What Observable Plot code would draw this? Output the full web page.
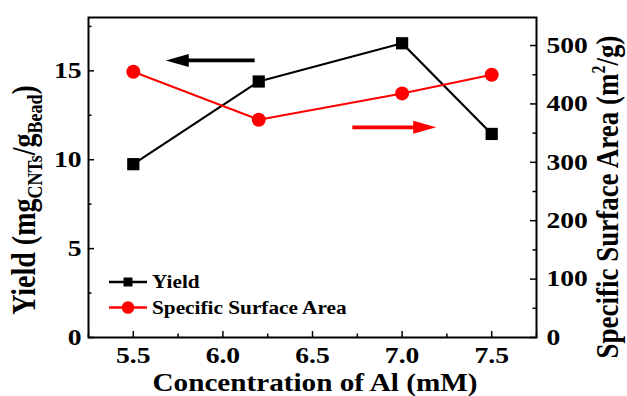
<!DOCTYPE html>
<html>
<head>
<meta charset="utf-8">
<script src="https://cdn.jsdelivr.net/npm/d3@7"></script>
<script src="https://cdn.jsdelivr.net/npm/@observablehq/plot@0.6"></script>
<style>
  html, body { margin: 0; padding: 0; background: #fff; }
  #chart svg { display: block; }
</style>
</head>
<body>
<div id="chart"></div>
<script>
// ---- data ----
const concentration = [5.5, 6.2, 7.0, 7.5];
const yieldValues = [9.75, 14.4, 16.55, 11.45];        // mg CNTs / g Bead (left axis)
const surfaceArea = [455, 373, 418, 450];              // m2/g (right axis)
const xTicks = [5.5, 6.0, 6.5, 7.0, 7.5];
const xMinorTicks = [5.25, 5.75, 6.25, 6.75, 7.25, 7.75];
const yTicks = [0, 5, 10, 15];
const yMinorTicks = [2.5, 7.5, 12.5, 17.5];
const y2Ticks = [0, 100, 200, 300, 400, 500];
const y2MinorTicks = [50, 150, 250, 350, 450];
const yDomain = [0, 18];
const y2Max = 548;
const xDomain = [5.25, 7.75];
// annotation arrows
const arrowFrom = [6.18, 6.725];
const arrowTo = [5.684, 7.193];
const arrowLevel = [15.56, 359];
const arrowAxis = ["left", "right"];
const arrowColor = ["#000000", "#ff0000"];
const seriesNames = ["Yield", "Specific Surface Area"];

const k = y2Max / yDomain[1];
const rows = concentration.map((c, i) => ({c, yld: yieldValues[i], ssa: surfaceArea[i] / k}));

const FONT = "'Liberation Serif', 'Times New Roman', serif";
const W = 627, H = 396, ML = 88, MR = 91, MT = 17, MB = 59;
const FW = W - ML - MR, FH = H - MT - MB;
const MAJ = 6, MIN = 3.5;

const plot = Plot.plot({
  width: W,
  height: H,
  marginLeft: ML,
  marginRight: MR,
  marginTop: MT,
  marginBottom: MB,
  style: {fontFamily: FONT, fontWeight: "bold", fontSize: "23px", background: "transparent", color: "#000"},
  x: {domain: xDomain},
  y: {domain: yDomain},
  marks: [
    Plot.axisX({ticks: xTicks, tickSize: 0, tickPadding: 9, tickFormat: d3.format(".1f"), label: null}),
    Plot.axisY({ticks: yTicks, tickSize: 0, tickPadding: 7, label: null}),
    Plot.axisY({anchor: "right", ticks: y2Ticks.map(v => v / k), tickSize: 0, tickPadding: 10, tickFormat: d => Math.round(d * k), label: null}),
    // inward tick marks
    Plot.tickX(xTicks, {x: d => d, insetTop: FH - MAJ, stroke: "#000", strokeWidth: 1.5}),
    Plot.tickX(xMinorTicks, {x: d => d, insetTop: FH - MIN, stroke: "#000", strokeWidth: 1.5}),
    Plot.tickY(yTicks, {y: d => d, insetRight: FW - MAJ, stroke: "#000", strokeWidth: 1.5}),
    Plot.tickY(yMinorTicks, {y: d => d, insetRight: FW - MIN, stroke: "#000", strokeWidth: 1.5}),
    Plot.tickY(y2Ticks, {y: d => d / k, insetLeft: FW - MAJ, stroke: "#000", strokeWidth: 1.5}),
    Plot.tickY(y2MinorTicks, {y: d => d / k, insetLeft: FW - MIN, stroke: "#000", strokeWidth: 1.5}),
    Plot.frame({stroke: "#000", strokeWidth: 2}),
    Plot.line(rows, {x: "c", y: "yld", stroke: "#000", strokeWidth: 2.2}),
    Plot.line(rows, {x: "c", y: "ssa", stroke: "#ff0000", strokeWidth: 2}),
    Plot.dot(rows, {x: "c", y: "yld", symbol: "square", r: 6.9, fill: "#000", stroke: "none"}),
    Plot.dot(rows, {x: "c", y: "ssa", symbol: "circle", r: 7, fill: "#ff0000", stroke: "none"})
  ]
});
document.getElementById("chart").append(plot);

const svg = d3.select(plot);
const sx = plot.scale("x"), sy = plot.scale("y");

function stretch(el, f) {
  const L = el.getComputedTextLength();
  if (L > 0) {
    el.setAttribute("textLength", L * f);
    el.setAttribute("lengthAdjust", "spacingAndGlyphs");
  }
}

// stretch tick labels horizontally like the reference
svg.selectAll('g[aria-label$="tick label"] text').each(function() { stretch(this, 1.2); });

// arrows
arrowFrom.forEach((x1, i) => {
  const a = sx.apply(x1), b = sx.apply(arrowTo[i]);
  const lv = arrowAxis[i] === "left" ? arrowLevel[i] : arrowLevel[i] / k;
  const y = sy.apply(lv);
  const dir = Math.sign(b - a), hl = 23, hw = 6.5;
  svg.append("line").attr("x1", a).attr("x2", b - dir * (hl - 2)).attr("y1", y).attr("y2", y)
    .attr("stroke", arrowColor[i]).attr("stroke-width", 3.6);
  svg.append("path").attr("d", `M${b},${y}L${b - dir * hl},${y - hw}L${b - dir * hl},${y + hw}Z`)
    .attr("fill", arrowColor[i]);
});

// axis titles
svg.append("text").attr("x", 315).attr("y", H).attr("dy", "-0.22em")
  .attr("text-anchor", "middle").attr("font-family", FONT).attr("font-weight", "bold").attr("font-size", 25)
  .attr("textLength", 325).attr("lengthAdjust", "spacingAndGlyphs")
  .text("Concentration of Al (mM)");

const yl = svg.append("text").attr("transform", "translate(35,200) scale(1.2,1) rotate(-90)")
  .attr("text-anchor", "middle").attr("font-family", FONT).attr("font-weight", "bold").attr("font-size", 28);
yl.append("tspan").text("Yield (mg");
yl.append("tspan").attr("font-size", 18).attr("dy", 6).text("CNTs");
yl.append("tspan").attr("dy", -6).text("/g");
yl.append("tspan").attr("font-size", 18).attr("dy", 6).text("Bead");
yl.append("tspan").attr("dy", -6).text(")");

const yr = svg.append("text").attr("transform", "translate(618,197) scale(1.15,1) rotate(-90)")
  .attr("text-anchor", "middle").attr("font-family", FONT).attr("font-weight", "bold").attr("font-size", 27);
yr.append("tspan").text("Specific Surface Area (m");
yr.append("tspan").attr("font-size", 16).attr("dy", -11).text("2");
yr.append("tspan").attr("dy", 11).text("/g)");

// legend
const legendX = 109, legendY = [282, 307.5];
seriesNames.forEach((name, i) => {
  const g = svg.append("g");
  const col = i === 0 ? "#000" : "#ff0000";
  g.append("line").attr("x1", legendX).attr("x2", legendX + 38).attr("y1", legendY[i]).attr("y2", legendY[i])
    .attr("stroke", col).attr("stroke-width", 2.5);
  if (i === 0) {
    g.append("rect").attr("x", legendX + 19 - 4.5).attr("y", legendY[i] - 4.5).attr("width", 9).attr("height", 9).attr("fill", col);
  } else {
    g.append("circle").attr("cx", legendX + 19).attr("cy", legendY[i]).attr("r", 6.3).attr("fill", col);
  }
  const t = g.append("text").attr("x", legendX + 43).attr("y", legendY[i]).attr("dy", "0.33em")
    .attr("text-anchor", "start")
    .attr("font-family", FONT).attr("font-weight", "bold").attr("font-size", 19).text(name);
  stretch(t.node(), 1.12);
});
</script>
</body>
</html>
